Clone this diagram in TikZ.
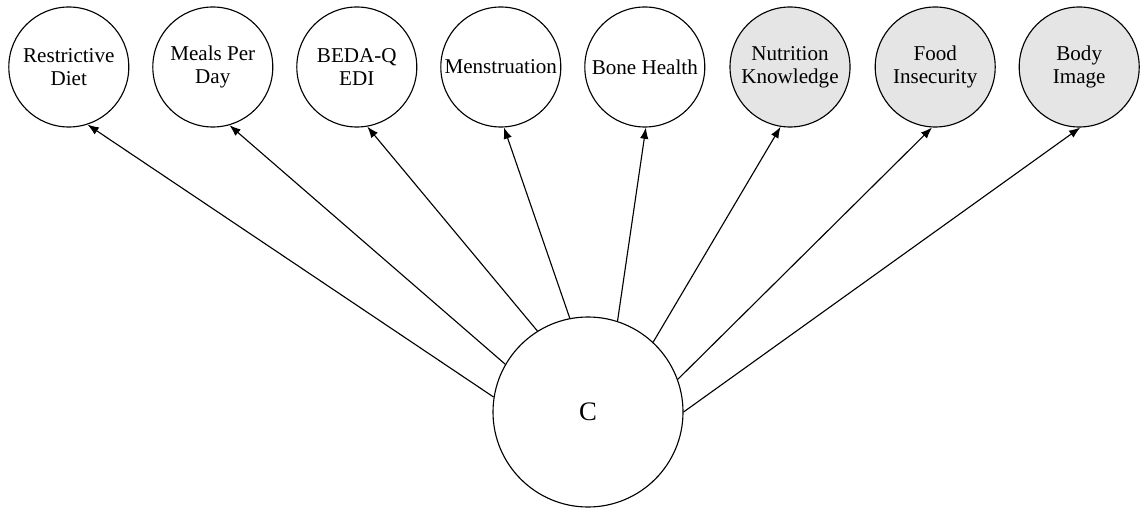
\documentclass[tikz,border=0pt]{standalone}
\usepackage{fontspec}
\setmainfont{Liberation Serif}
\usetikzlibrary{arrows.meta}
\begin{document}
\begin{tikzpicture}[scale=1, transform shape]
	    \tikzset{>={Latex[length=8pt,width=6pt]}}
	    \tikzset{var/.style={circle,draw,line width=0.8pt,minimum size=3cm,inner sep=0pt,align=center,font=\fontsize{15}{16.5}\selectfont}}
	    \tikzset{obs/.style={var,fill=gray!20}}
	    \useasboundingbox (0,0) rectangle (28.5,12.725);
	    \node [var] (1) at (1.72,11.05) {Restrictive\\Diet};
	    \node [var] (2) at (5.32,11.05) {Meals Per\\Day};
	    \node [var] (3) at (8.92,11.05) {BEDA-Q\\EDI};
	    \node [var] (4) at (12.52,11.05) {Menstruation};
	    \node [var] (5) at (16.12,11.05) {Bone Health};
	    \node [obs] (6) at (19.75,11.05) {Nutrition\\Knowledge};
	    \node [obs] (7) at (23.38,11.05) {Food\\Insecurity};
	    \node [obs] (8) at (26.98,11.05) {Body\\Image};
	    \node [var,minimum size=4.75cm,font=\fontsize{19}{21}\selectfont] (c) at (14.7,2.425) {C};
	    \draw [->,line width=0.8pt] (c.171) -- (1.-72);
	    \draw [->,line width=0.8pt] (c.150) -- (2.-74);
	    \draw [->,line width=0.8pt] (c.122) -- (3.-80);
	    \draw [->,line width=0.8pt] (c.101) -- (4.-87);
	    \draw [->,line width=0.8pt] (c.72) -- (5.-89);
	    \draw [->,line width=0.8pt] (c.47) -- (6.-99);
	    \draw [->,line width=0.8pt] (c.20) -- (7.-93);
	    \draw [->,line width=0.8pt] (c.0) -- (8.-89);
	    % \draw [->,dashed] (c) -- (8);
\end{tikzpicture}
\end{document}
